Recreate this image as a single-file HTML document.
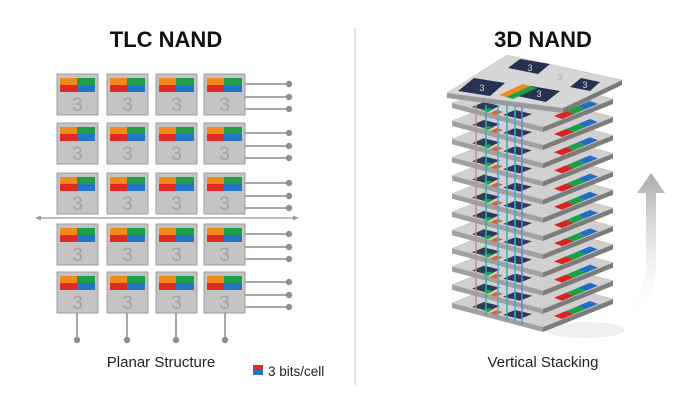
<!DOCTYPE html>
<html><head><meta charset="utf-8"><style>
html,body{margin:0;padding:0;background:#fff;}
svg{display:block;}
text{font-family:"Liberation Sans",sans-serif;}
</style></head><body>
<svg width="700" height="400" viewBox="0 0 700 400" xmlns="http://www.w3.org/2000/svg">
<defs>
  <g id="cell">
    <rect x="0" y="0" width="41" height="41" fill="#c4c4c4" stroke="#9c9c9c" stroke-width="1"/>
    <rect x="3" y="4" width="17" height="7" fill="#f08a1c"/>
    <rect x="20" y="4" width="18" height="7" fill="#1f9e48"/>
    <rect x="3" y="11" width="17" height="7" fill="#e02a24"/>
    <rect x="20" y="11" width="18" height="7" fill="#2276c8"/>
    <text x="20.5" y="37" text-anchor="middle" font-size="19" fill="#a3a3a3">3</text>
  </g>
  <g id="row">
    <use href="#cell" x="57" y="0"/><use href="#cell" x="107" y="0"/>
    <use href="#cell" x="156" y="0"/><use href="#cell" x="204" y="0"/>
    <g stroke="#8a8a8a" stroke-width="1.5"><line x1="245" y1="10" x2="289" y2="10"/><line x1="245" y1="23" x2="289" y2="23"/><line x1="245" y1="35" x2="289" y2="35"/></g>
    <g fill="#8f8f8f"><circle cx="289" cy="10" r="3.2"/><circle cx="289" cy="23" r="3.2"/><circle cx="289" cy="35" r="3.2"/></g>
  </g>
  <g id="layer">
    <polygon points="452,0 543,24 543,29 452,5" fill="#a0a0a0"/>
    <polygon points="543,24 613,-4 613,1 543,29" fill="#7c7c7c"/>
    <polygon points="452,0 522,-28 613,-4 543,24" fill="#d0d0d0" stroke="#b8b8b8" stroke-width="0.5"/>
    <polygon points="472,4 484,-1 500,3 488,8" fill="#2d3a58"/>
    <polygon points="503,12 515,7 532,11 520,16" fill="#2d3a58"/>
    <polygon points="490,10 497,7 503,9 496,12" fill="#e0622c"/>
    <polygon points="482,7 488,5 494,6 488,9" fill="#1f9e48"/>
    <polygon points="554,13 566,8 574,11 562,16" fill="#d62424"/>
    <polygon points="566,8 578,3 586,6 574,11" fill="#1f9e48"/>
    <polygon points="578,3 590,-2 598,1 586,6" fill="#1f6ec4"/>
  </g>
  <linearGradient id="ag" x1="0" y1="1" x2="0" y2="0">
    <stop offset="0" stop-color="#fff" stop-opacity="0"/>
    <stop offset="1" stop-color="#a8a8a8"/>
  </linearGradient>
</defs>

<text x="166" y="47" text-anchor="middle" font-size="22" font-weight="bold" fill="#111">TLC NAND</text>
<text x="543" y="47" text-anchor="middle" font-size="22" font-weight="bold" fill="#111">3D NAND</text>
<line x1="355" y1="28" x2="355" y2="385" stroke="#d8d8d8" stroke-width="1.5"/>

<use href="#row" y="74"/>
<use href="#row" y="123"/>
<use href="#row" y="173"/>
<use href="#row" y="224"/>
<use href="#row" y="272"/>

<line x1="38" y1="218" x2="296" y2="218" stroke="#999" stroke-width="1.2"/>
<polygon points="35,218 41,215.5 41,220.5" fill="#999"/>
<polygon points="299,218 293,215.5 293,220.5" fill="#999"/>

<g stroke="#8a8a8a" stroke-width="1.5">
<line x1="77" y1="313" x2="77" y2="340"/><line x1="127" y1="313" x2="127" y2="340"/>
<line x1="176" y1="313" x2="176" y2="340"/><line x1="225" y1="313" x2="225" y2="340"/></g>
<g fill="#8f8f8f"><circle cx="77" cy="340" r="3.2"/><circle cx="127" cy="340" r="3.2"/><circle cx="176" cy="340" r="3.2"/><circle cx="225" cy="340" r="3.2"/></g>

<text x="161" y="367" text-anchor="middle" font-size="15" fill="#222">Planar Structure</text>
<rect x="253" y="365" width="10" height="5" fill="#e02a24"/>
<rect x="253" y="370" width="10" height="5" fill="#2276c8"/>
<text x="268" y="376" font-size="13.5" fill="#222">3 bits/cell</text>

<!-- arrow -->
<path d="M612,315 Q646,300 646,262 L646,193 L637,193 L651,173 L665,193 L656,193 L656,262 Q656,310 618,322 Z" fill="url(#ag)"/>
<ellipse cx="585" cy="330" rx="40" ry="8" fill="#f0f0f0"/>

<!-- layers bottom to top -->
<use href="#layer" y="303"/>
<use href="#layer" y="284.8"/>
<use href="#layer" y="266.6"/>
<use href="#layer" y="248.4"/>
<use href="#layer" y="230.2"/>
<use href="#layer" y="212"/>
<use href="#layer" y="193.8"/>
<use href="#layer" y="175.6"/>
<use href="#layer" y="157.4"/>
<use href="#layer" y="139.2"/>
<use href="#layer" y="121"/>
<use href="#layer" y="103"/>

<g stroke-width="1.5">
<line x1="476" y1="105" x2="476" y2="312" stroke="#c58aa0"/>
<line x1="486" y1="105" x2="486" y2="315" stroke="#2bb3a8"/>
<line x1="498" y1="105" x2="498" y2="318" stroke="#3ab0d8"/>
<line x1="507" y1="105" x2="507" y2="321" stroke="#2bb3a8"/>
<line x1="515" y1="105" x2="515" y2="323" stroke="#3ab0d8"/>
<line x1="522" y1="105" x2="522" y2="325" stroke="#5a8ad0"/>
</g>

<!-- top plate -->
<polygon points="447,93 563,108 563,113 447,98" fill="#9a9a9a"/>
<polygon points="563,108 622,80 622,85 563,113" fill="#7a7a7a"/>
<polygon points="447,93 507,55 622,80 563,108" fill="#d6d6d6" stroke="#bbb" stroke-width="0.5"/>
<polygon points="458,91 474,78 505,83 490,96" fill="#263350"/>
<polygon points="517,96 531,86 560,91 546,102" fill="#263350"/>
<polygon points="508,68 520,59 550,64 538,74" fill="#263350"/>
<polygon points="570,87 581,78 600,82 590,91" fill="#263350"/>
<polygon points="499,95 523,84 530,86 506,97" fill="#f08a1c"/>
<polygon points="506,97 530,86 537,88 513,99" fill="#1f9e48"/>
<g fill="#cfd6e4" font-size="9" text-anchor="middle">
<text x="482" y="91">3</text><text x="539" y="97">3</text><text x="530" y="71">3</text><text x="585" y="88">3</text></g>
<text x="560" y="80" font-size="9" fill="#aaa" text-anchor="middle">3</text>

<text x="543" y="367" text-anchor="middle" font-size="15" fill="#222">Vertical Stacking</text>
</svg>
</body></html>
